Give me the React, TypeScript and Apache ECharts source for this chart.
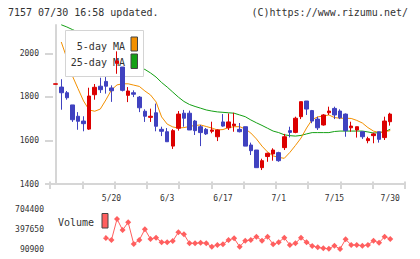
import React, { useEffect, useRef } from 'react';
import * as echarts from 'echarts';

const dates = ['5/2','5/7','5/8','5/9','5/12','5/13','5/14','5/15','5/16','5/19','5/20','5/21','5/22','5/23','5/26','5/27','5/28','5/29','5/30','6/2','6/3','6/4','6/5','6/6','6/9','6/10','6/11','6/12','6/13','6/16','6/17','6/18','6/19','6/20','6/23','6/24','6/25','6/26','6/27','6/30','7/1','7/2','7/3','7/4','7/7','7/8','7/9','7/10','7/11','7/14','7/15','7/16','7/17','7/18','7/22','7/23','7/24','7/25','7/28','7/29','7/30'];

const opens = [1858,1845,1819,1763,1711,1689,1652,1810,1849,1871,1841,1954,1937,1807,1819,1799,1734,1706,1727,1651,1640,1574,1656,1725,1725,1689,1663,1651,1642,1617,1685,1658,1668,1651,1663,1579,1556,1475,1526,1538,1544,1567,1645,1637,1709,1781,1737,1698,1671,1727,1747,1735,1721,1658,1648,1640,1599,1622,1640,1613,1686];
const closes = [1860,1819,1796,1695,1688,1677,1804,1844,1833,1849,1828,1965,1830,1827,1812,1750,1711,1711,1665,1642,1594,1645,1721,1702,1648,1645,1636,1630,1648,1648,1666,1685,1675,1640,1574,1553,1475,1507,1541,1556,1507,1617,1637,1702,1778,1744,1689,1658,1717,1735,1717,1704,1645,1666,1663,1617,1608,1630,1605,1689,1721];
const lows = [1858,1741,1787,1685,1649,1642,1648,1787,1818,1815,1777,1906,1825,1776,1799,1730,1685,1685,1642,1620,1594,1561,1645,1663,1648,1625,1574,1625,1633,1597,1663,1648,1640,1637,1574,1533,1475,1464,1502,1507,1502,1556,1614,1633,1698,1717,1679,1648,1668,1717,1698,1698,1617,1640,1613,1607,1587,1587,1590,1602,1668];
const highs = [1860,1881,1827,1763,1730,1711,1842,1859,1888,1891,1853,2009,1937,1845,1830,1804,1743,1746,1769,1663,1657,1652,1735,1740,1737,1694,1671,1657,1686,1651,1721,1724,1727,1680,1663,1590,1556,1516,1544,1564,1548,1630,1663,1709,1778,1781,1740,1709,1721,1755,1755,1743,1724,1686,1663,1640,1617,1636,1640,1709,1727];

const ma5 = [null,2052,1978,1896,1838,1781,1740,1734,1744,1786,1832,1855,1860,1860,1854,1848,1827,1809,1777,1708,1675,1662,1657,1659,1664,1669,1671,1664,1657,1648,1650,1659,1663,1663,1653,1634,1607,1574,1547,1529,1522,1518,1545,1577,1611,1657,1696,1708,1712,1717,1705,1702,1702,1701,1692,1680,1659,1643,1636,1640,1645];
const ma25 = [null,2131,2121,2109,2098,2084,2070,2057,2043,2029,2015,2001,1983,1965,1949,1935,1926,1910,1891,1866,1845,1822,1799,1779,1765,1756,1748,1740,1735,1731,1729,1727,1725,1717,1709,1694,1681,1669,1656,1643,1636,1626,1622,1620,1623,1630,1636,1636,1636,1636,1641,1643,1643,1643,1643,1643,1639,1634,1636,1640,1651];

const volumes = [330000,380000,340000,450000,400000,350000,704400,480000,340000,259600,228900,551000,382300,500400,167600,228900,393000,244300,264200,193700,193700,213600,347000,316400,178300,178300,187500,178300,126200,152200,163000,228900,255000,126200,218200,228900,279500,218200,279500,163000,193700,264200,152200,178300,264200,193700,136900,117000,101600,95000,141500,90900,239700,152200,152200,141500,152200,218200,187500,279500,244300];

const priceTicks = [1400, 1600, 1800, 2000];
const volumeTicks = [90900, 397650, 704400];
const dateLabelIdx = [10, 20, 30, 40, 50, 60];

const FONT = '"DejaVu Sans Mono", monospace';
const RED = '#dc0000';
const BLUE = '#4042c0';
const ORANGE = '#f39000';
const GREEN = '#14a014';
const VOL = '#ff5f5f';
const AXIS = '#d6d6d6';

export default function App() {
  const ref = useRef<HTMLDivElement>(null);
  useEffect(() => {
    const chart = echarts.init(ref.current!, null, { renderer: 'svg' });
    const xMin = -1.02;
    const xMax = 62.65;
    const xTickVals = Array.from({ length: 12 }, (_, k) => xMin + (k * (xMax - xMin)) / 11);
    const pMin = 1400;
    const pMax = 2130;

    const option: any = {
      animation: false,
      backgroundColor: '#fff',
      grid: [
        { left: 50, top: 25, width: 355, height: 159 },
        { left: 50, top: 25, width: 355, height: 156.6 },
        { left: 53, top: 25, width: 352, height: 159 },
        { left: 50, top: 209, width: 355, height: 40 },
      ],
      xAxis: [
        {
          type: 'value', gridIndex: 0, min: xMin, max: xMax, position: 'bottom',
          axisLine: { show: true, lineStyle: { color: AXIS, width: 2 } },
          axisTick: { show: false },
          splitLine: { show: false },
          axisLabel: {
            customValues: dateLabelIdx,
            formatter: (v: number) => dates[Math.round(v)],
            fontFamily: FONT, fontSize: 8, color: '#333', margin: 10,
          },
        },
        {
          type: 'value', gridIndex: 1, min: xMin, max: xMax, position: 'bottom',
          axisLine: { show: false },
          axisTick: { show: true, customValues: xTickVals, length: 7.4, lineStyle: { color: AXIS, width: 2 } },
          axisLabel: { show: false },
          splitLine: { show: false },
        },
        { type: 'value', gridIndex: 2, min: 0, max: 1, show: false },
        { type: 'value', gridIndex: 3, min: xMin, max: xMax, show: false },
      ],
      yAxis: [
        {
          type: 'value', gridIndex: 0, min: pMin, max: pMax, position: 'left',
          axisLine: { show: true, lineStyle: { color: AXIS, width: 2 } },
          axisTick: { show: false },
          splitLine: { show: false },
          axisLabel: {
            customValues: priceTicks,
            formatter: (v: number) => String(v),
            fontFamily: FONT, fontSize: 8, color: '#333', margin: 11,
          },
        },
        { type: 'value', gridIndex: 1, min: 0, max: 1, show: false },
        {
          type: 'value', gridIndex: 2, min: pMin, max: pMax, position: 'left',
          axisLine: { show: false },
          axisTick: { show: true, customValues: priceTicks, length: 8, lineStyle: { color: AXIS, width: 2 } },
          axisLabel: { show: false },
          splitLine: { show: false },
        },
        {
          type: 'value', gridIndex: 3, min: volumeTicks[0], max: volumeTicks[2], position: 'left',
          axisLine: { show: false },
          axisTick: { show: false },
          splitLine: { show: false },
          axisLabel: {
            customValues: volumeTicks,
            formatter: (v: number) => String(v),
            fontFamily: FONT, fontSize: 8, color: '#333', margin: 6,
          },
        },
      ],
      series: [
        {
          type: 'line', name: '25-day MA', xAxisIndex: 0, yAxisIndex: 0,
          data: ma25.map((v, i) => [i, v]).filter((d) => d[1] != null),
          showSymbol: false, clip: false, z: 1,
          lineStyle: { color: GREEN, width: 1 },
        },
        {
          type: 'line', name: '5-day MA', xAxisIndex: 0, yAxisIndex: 0,
          data: ma5.map((v, i) => [i, v]).filter((d) => d[1] != null),
          showSymbol: false, clip: false, z: 1,
          lineStyle: { color: ORANGE, width: 1 },
        },
        {
          type: 'candlestick', xAxisIndex: 0, yAxisIndex: 0,
          data: dates.map((_, i) => [i, opens[i], closes[i], lows[i], highs[i]]),
          encode: { x: 0, y: [1, 2, 3, 4] },
          barWidth: 4,
          z: 4,
          itemStyle: { color: RED, color0: BLUE, borderColor: RED, borderColor0: BLUE, borderWidth: 1 },
        },
        {
          type: 'line', name: 'Volume', xAxisIndex: 3, yAxisIndex: 3,
          data: volumes.map((v, i) => [i, v]),
          symbol: 'diamond', symbolSize: 6, showSymbol: true, clip: false, z: 2,
          itemStyle: { color: VOL },
          lineStyle: { color: VOL, width: 1 },
        },
      ],
      graphic: [
        {
          type: 'text', x: 8, y: 12, z: 10,
          style: { text: '7157 07/30 16:58 updated.', font: `10px ${FONT}`, fill: '#333', verticalAlign: 'middle' },
        },
        {
          type: 'text', x: 408, y: 12, z: 10,
          style: { text: '(C)https://www.rizumu.net/', font: `10px ${FONT}`, fill: '#333', align: 'right', verticalAlign: 'middle' },
        },
        {
          type: 'rect', z: 3,
          shape: { x: 65.5, y: 30.5, width: 78, height: 46 },
          style: { fill: '#fff', stroke: '#d4d4d4', lineWidth: 1 },
        },
        {
          type: 'text', x: 125, y: 46, z: 3.5,
          style: { text: '5-day MA', font: `10px ${FONT}`, fill: '#333', align: 'right', verticalAlign: 'middle' },
        },
        {
          type: 'text', x: 125, y: 62.5, z: 3.5,
          style: { text: '25-day MA', font: `10px ${FONT}`, fill: '#333', align: 'right', verticalAlign: 'middle' },
        },
        {
          type: 'rect', z: 3.5,
          shape: { x: 131, y: 37, width: 6.5, height: 14 },
          style: { fill: ORANGE, stroke: '#444', lineWidth: 1 },
        },
        {
          type: 'rect', z: 3.5,
          shape: { x: 131, y: 54, width: 6.5, height: 14.5 },
          style: { fill: GREEN, stroke: '#444', lineWidth: 1 },
        },
        {
          type: 'rect', z: 5,
          shape: { x: 46, y: 203, width: 58.5, height: 34.5 },
          style: { fill: '#fff', lineWidth: 0 },
        },
        {
          type: 'text', x: 94, y: 222, z: 6,
          style: { text: 'Volume', font: `10px ${FONT}`, fill: '#333', align: 'right', verticalAlign: 'middle' },
        },
        {
          type: 'rect', z: 6,
          shape: { x: 102, y: 213.5, width: 6, height: 14.5 },
          style: { fill: VOL, stroke: '#444', lineWidth: 1 },
        },
      ],
    };
    chart.setOption(option);
    return () => chart.dispose();
  }, []);
  return <div ref={ref} style={{ position: 'absolute', left: 0, top: 0, width: 420, height: 259 }} />;
}
